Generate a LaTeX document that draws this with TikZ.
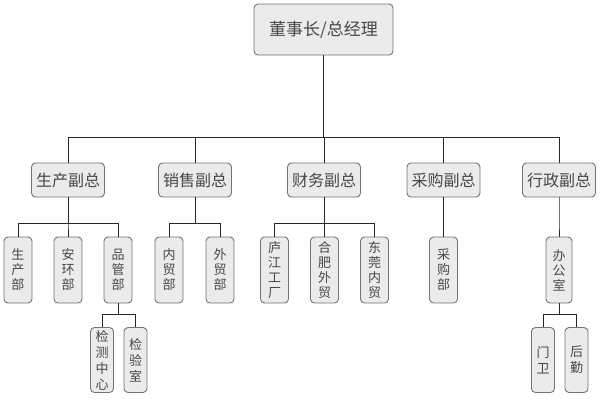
\documentclass[tikz,border=0pt]{standalone}
\usepackage{fontspec}
\setmainfont{Noto Sans CJK SC}
\begin{document}
\begin{tikzpicture}[x=1pt,y=-1pt,
  box/.style={draw=black!55,fill=black!8,rounded corners=4pt,line width=0.9pt,text=black!72,inner sep=0pt,align=center},
  topbox/.style={box,minimum width=139pt,minimum height=51pt,font=\fontsize{17}{20}\selectfont},
  vpbox/.style={box,minimum width=73pt,minimum height=34pt,font=\fontsize{16}{19}\selectfont},
  deptbox/.style={box,minimum width=28pt,minimum height=66pt,font=\fontsize{13}{15}\selectfont},
  subbox/.style={box,minimum width=23pt,minimum height=65pt,font=\fontsize{13}{16}\selectfont},
  link/.style={draw=black!85,line width=1pt}]
\useasboundingbox (0,0) rectangle (600,400);

\node[topbox] (top) at (323.5,29.5) {董事长/总经理};

\node[vpbox] (v1) at (68,180) {生产副总};
\node[vpbox] (v2) at (195,180) {销售副总};
\node[vpbox] (v3) at (324,180) {财务副总};
\node[vpbox] (v4) at (443.5,180) {采购副总};
\node[vpbox] (v5) at (559,180) {行政副总};

\node[deptbox] (d1) at (18,270) {生\\产\\部};
\node[deptbox] (d2) at (68,270) {安\\环\\部};
\node[deptbox] (d3) at (118,270) {品\\管\\部};
\node[deptbox] (d4) at (169,270) {内\\贸\\部};
\node[deptbox] (d5) at (220,270) {外\\贸\\部};
\node[deptbox] (d6) at (274.5,270) {庐\\江\\工\\厂};
\node[deptbox] (d7) at (324.5,270) {合\\肥\\外\\贸};
\node[deptbox] (d8) at (374.5,270) {东\\莞\\内\\贸};
\node[deptbox] (d9) at (443.5,270) {采\\购\\部};
\node[deptbox,minimum width=26pt] (d10) at (559,270) {办\\公\\室};

\node[subbox] (s1) at (102,360) {检\\测\\中\\心};
\node[subbox] (s2) at (135.5,360) {检\\验\\室};
\node[subbox] (s3) at (543,360) {门\\卫};
\node[subbox] (s4) at (576.5,360) {后\\勤};

\coordinate (bar0) at (0,137);
\coordinate (bar1) at (0,223);
\coordinate (bar2) at (0,314);

\foreach \c in {v1,v2,v3,v4,v5}
  \draw[link] (top.south) -- (top.south |- bar0) -| (\c.north);
\foreach \p/\c in {v1/d1,v1/d2,v1/d3,v2/d4,v2/d5,v3/d6,v3/d7,v3/d8,v4/d9,v5/d10}
  \draw[link] (\p.south) -- (\p.south |- bar1) -| (\c.north);
\foreach \p/\c in {d3/s1,d3/s2,d10/s3,d10/s4}
  \draw[link] (\p.south) -- (\p.south |- bar2) -| (\c.north);
\end{tikzpicture}
\end{document}
